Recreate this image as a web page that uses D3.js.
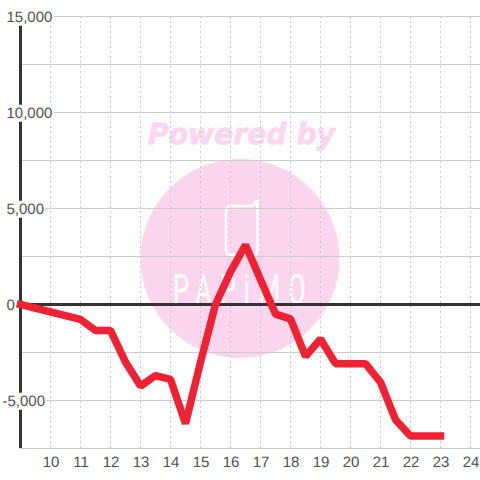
<!DOCTYPE html>
<html><head><meta charset="utf-8">
<script src="https://cdnjs.cloudflare.com/ajax/libs/d3/7.8.5/d3.min.js"></script>
<style>html,body{margin:0;padding:0;background:#fff}svg{display:block}text{text-rendering:geometricPrecision}</style>
</head><body><svg id="c" width="480" height="480"></svg>
<script>
const hours=[9,11,11.5,12,12.5,13,13.5,14,14.5,15,15.5,16,16.5,17,17.5,18,18.5,19,19.5,20,20.5,21,21.5,22,22.5,23];
const values=[0,-780,-1350,-1350,-3000,-4250,-3700,-3900,-6200,-3000,0,1700,3100,1300,-500,-750,-2700,-1800,-3080,-3080,-3080,-4050,-6000,-6850,-6850,-6850];
const xTicks=[10,11,12,13,14,15,16,17,18,19,20,21,22,23,24];
const yMajor=[15000,10000,5000,0,-5000];
const yMinor=[12500,7500,2500,-2500,-7500];
const logoText='PAPiMO';
const svg=d3.select('#c');
const x=d3.scaleLinear().domain([9,24]).range([20.5,470.5]);
const y=d3.scaleLinear().domain([15000,-7500]).range([16.5,448.5]);
const font='Liberation Sans, Arial, sans-serif';
const pink='#fcd6ee';
// watermark
svg.append('circle').attr('cx',240).attr('cy',258.5).attr('r',99.5).attr('fill',pink);
svg.append('text').attr('x',148).attr('y',144).attr('font-family','DejaVu Sans').attr('font-weight','bold').attr('font-style','italic').attr('font-size',29).attr('fill',pink).attr('stroke',pink).attr('stroke-width',0.8).attr('textLength',187).attr('lengthAdjust','spacingAndGlyphs').text('Powered by');
svg.append('path').attr('d','M232 206H251Q254 206 255 203Q256 200 257.500 201V250Q257.500 255 253 255H231Q226 255 226 250V211Q226 206 232 206Z').attr('fill','none').attr('stroke','#fff').attr('stroke-width',2.5);
svg.append('text').attr('transform','translate(173,304) scale(0.6,1)').attr('font-family','Roboto').attr('font-weight',400).attr('font-size',42).attr('letter-spacing',13.5).attr('fill','#fff').text(logoText);
// grid
svg.append('g').selectAll('line').data(yMinor.concat(yMajor.filter(d=>d!==0))).join('line').attr('x1',20).attr('x2',480).attr('y1',d=>y(d)).attr('y2',d=>y(d)).attr('stroke','#cccccc').attr('stroke-width',1);
svg.append('g').selectAll('line').data(xTicks).join('line').attr('x1',d=>x(d)).attr('x2',d=>x(d)).attr('y1',16).attr('y2',448).attr('stroke','#cccccc').attr('stroke-dasharray','2,3');
// axes
svg.append('line').attr('x1',x(9)).attr('x2',x(9)).attr('y1',16).attr('y2',448).attr('stroke','#333').attr('stroke-width',3);
svg.append('line').attr('x1',20).attr('x2',480).attr('y1',y(0)).attr('y2',y(0)).attr('stroke','#333').attr('stroke-width',3);
// y labels
const fmt=d=>d3.format(',')(d).replace('\u2212','-');
const yl=svg.append('g').selectAll('g').data(yMajor).join('g');
yl.append('text').attr('x',d=>d<0?2.5:6.5).attr('y',d=>y(d)).attr('dy','0.35em').attr('text-anchor','start').attr('font-family',font).attr('font-size',15).attr('fill','#505050').text(fmt);
yl.each(function(){const t=d3.select(this).select('text'),b=t.node().getBBox();
  d3.select(this).insert('rect','text').attr('x',b.x).attr('y',b.y).attr('width',b.width+1).attr('height',b.height).attr('fill','#fff');});
// x labels
svg.append('g').selectAll('text').data(xTicks).join('text').attr('x',d=>x(d)+0.5).attr('y',466.5).attr('text-anchor','middle').attr('font-family',font).attr('font-size',15).attr('fill','#505050').text(d=>d);
// series
const line=d3.line().x((d,i)=>x(hours[i])).y(d=>y(d));
svg.append('path').attr('d',line(values)).attr('fill','none').attr('stroke','#ee2233').attr('stroke-width',7.5).attr('stroke-linecap','square').attr('stroke-linejoin','bevel');
</script></body></html>
